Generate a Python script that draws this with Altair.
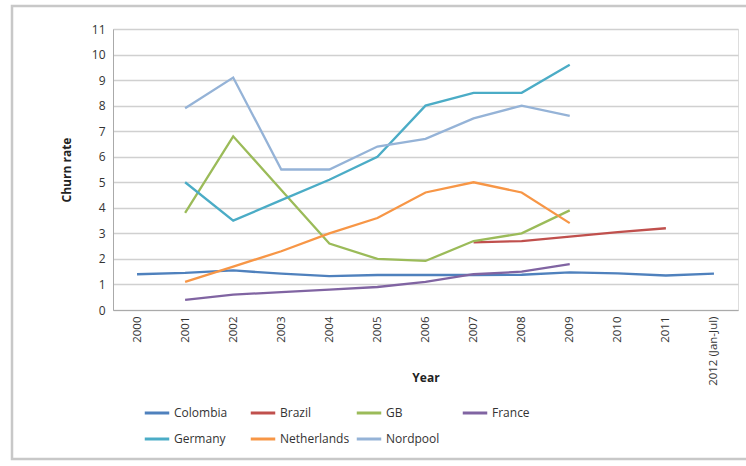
import altair as alt
import pandas as pd

years = ["2000", "2001", "2002", "2003", "2004", "2005", "2006", "2007",
         "2008", "2009", "2010", "2011", "2012 (Jan-Jul)"]

series_names = ["Colombia", "Brazil", "GB", "France", "Germany", "Netherlands", "Nordpool"]
series_colors = ["#4F81BD", "#C0504D", "#9BBB59", "#8064A2", "#4BACC6", "#F79646", "#95B3D7"]
# legend is filled column by column, so list entries in that order
legend_order = ["Colombia", "Germany", "Brazil", "Netherlands", "GB", "Nordpool", "France"]

colombia = [1.40, 1.45, 1.55, 1.42, 1.33, 1.37, 1.37, 1.37, 1.38, 1.47, 1.43, 1.35, 1.42]
brazil = [None, None, None, None, None, None, None, 2.65, 2.70, 2.87, 3.05, 3.20, None]
gb = [None, 3.8, 6.8, 4.7, 2.6, 2.0, 1.92, 2.7, 3.0, 3.9, None, None, None]
france = [None, 0.4, 0.6, 0.7, 0.8, 0.9, 1.1, 1.4, 1.5, 1.8, None, None, None]
germany = [None, 5.0, 3.5, 4.3, 5.1, 6.0, 8.0, 8.5, 8.5, 9.6, None, None, None]
netherlands = [None, 1.1, 1.7, 2.3, 3.0, 3.6, 4.6, 5.0, 4.6, 3.4, None, None, None]
nordpool = [None, 7.9, 9.1, 5.5, 5.5, 6.4, 6.7, 7.5, 8.0, 7.6, None, None, None]

all_series = [colombia, brazil, gb, france, germany, netherlands, nordpool]
color_map = dict(zip(series_names, series_colors))

rows = []
for name, vals in zip(series_names, all_series):
    for yr, v in zip(years, vals):
        if v is not None:
            rows.append({"Year": yr, "Series": name, "Churn": v})
df = pd.DataFrame(rows)

FONT = "Open Sans"

lines = alt.Chart(df).mark_line(strokeWidth=2.3).encode(
    x=alt.X("Year:N", sort=years, scale=alt.Scale(domain=years, type="point", padding=0.5),
            axis=alt.Axis(title="Year", labelAngle=-90, labelAlign="right", labelBaseline="middle",
                          labelFontSize=11.5, labelColor="#333333", labelPadding=6,
                          titleFontSize=12, titleFontWeight="bold", titleColor="#222222",
                          titleY=67, titleBaseline="middle",
                          ticks=False, domainColor="#aaaaaa", grid=False,
                          labelFont=FONT, titleFont=FONT)),
    y=alt.Y("Churn:Q", scale=alt.Scale(domain=[0, 11], nice=False),
            axis=alt.Axis(title="Churn rate", values=list(range(0, 12)), labelFontSize=12,
                          labelColor="#333333", labelPadding=8, ticks=False,
                          titleFontSize=12, titleFontWeight="bold", titleColor="#222222",
                          titlePadding=18, domainColor="#aaaaaa", gridColor="#d0d0d0",
                          gridWidth=1.5, labelFont=FONT, titleFont=FONT)),
    color=alt.Color("Series:N", sort=legend_order,
                    scale=alt.Scale(domain=legend_order,
                                    range=[color_map[n] for n in legend_order]),
                    legend=alt.Legend(title=None, orient="none", legendX=30, legendY=370,
                                      columns=4, symbolType="stroke", symbolSize=600,
                                      symbolStrokeWidth=3, gridAlign="all", columnPadding=0,
                                      rowPadding=6, labelFontSize=12, labelColor="#333333",
                                      labelFont=FONT, labelOffset=3)),
)

frame = alt.Chart(pd.DataFrame({"f": [0]})).mark_rect(
    fill=None, stroke="#c8c8c8", strokeWidth=2.5
).encode(x=alt.value(-101), x2=alt.value(660), y=alt.value(-23), y2=alt.value(430))

chart = alt.layer(frame, lines).properties(
    width=625, height=281,
    autosize=alt.AutoSizeParams(type="none"),
    padding={"left": 113, "top": 29, "right": 8, "bottom": 156},
).configure_view(stroke=None).configure(background="white")

chart.save("out.html", embed_options={"renderer": "svg", "actions": False})
